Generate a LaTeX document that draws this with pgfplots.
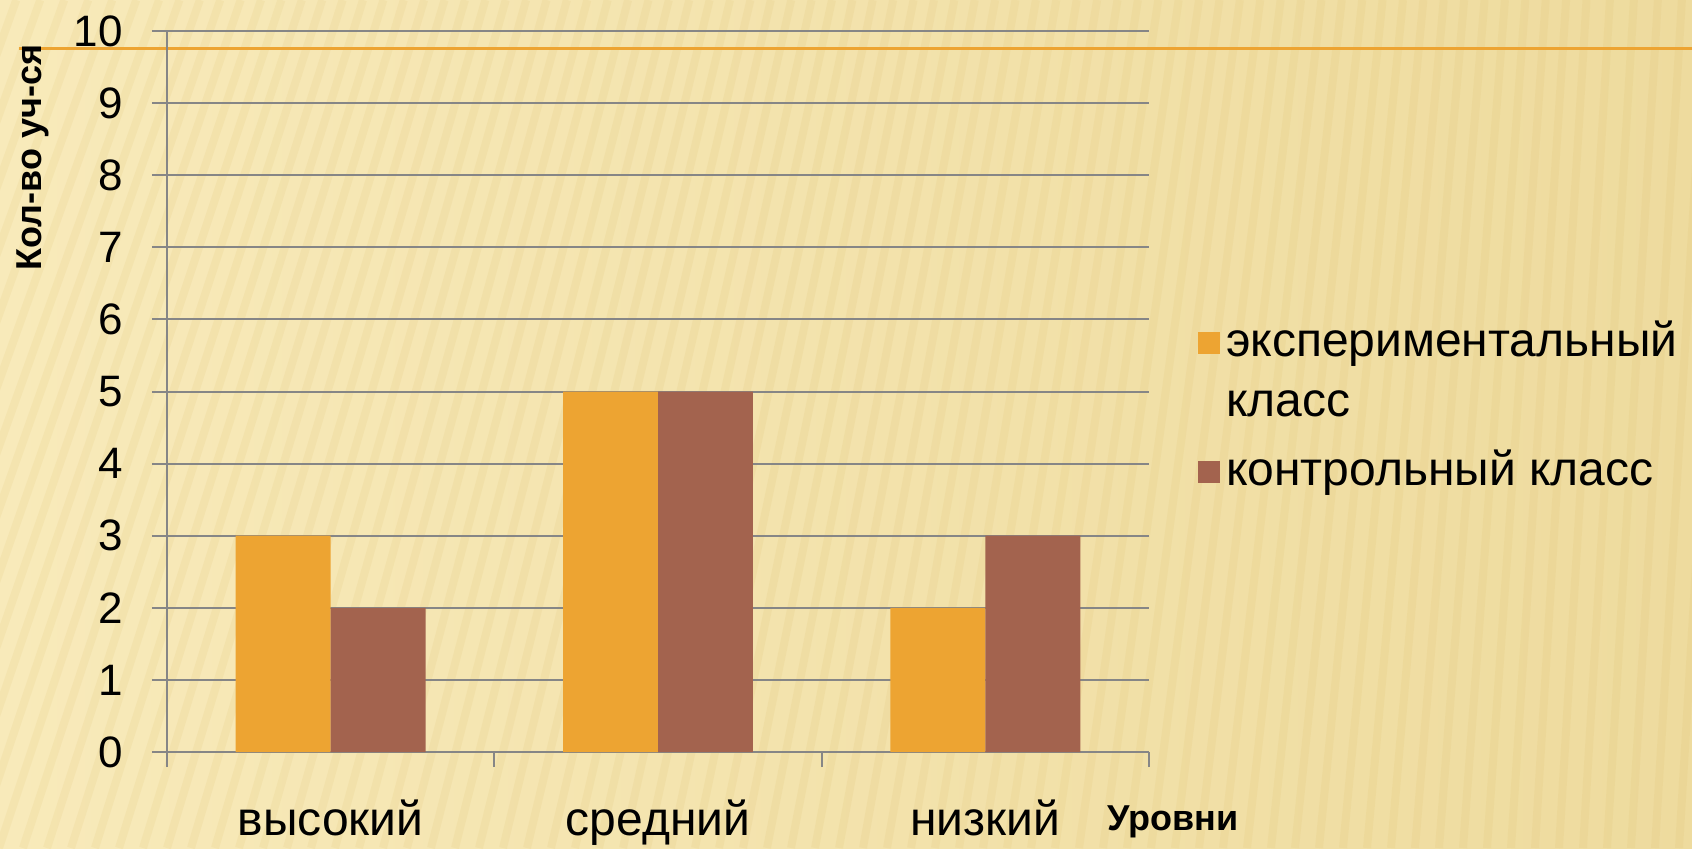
\documentclass[border=0pt]{standalone}
\usepackage{fontspec}
\setmainfont{Liberation Sans}
\usepackage{pgfplots}
\pgfplotsset{compat=1.18}
\definecolor{bgl}{RGB}{248,234,186}
\definecolor{bgm}{RGB}{252,241,202}
\definecolor{bgr}{RGB}{238,219,158}
\definecolor{stripec}{RGB}{215,180,90}
\definecolor{expc}{RGB}{237,164,50}
\definecolor{ctlc}{RGB}{163,99,78}
\definecolor{gridc}{RGB}{134,134,134}
\begin{document}
\begin{tikzpicture}
\path[use as bounding box] (-83.5pt,-48pt) rectangle (762.5pt,376pt);
\begin{scope}
\clip (-83.5pt,-48pt) rectangle (762.5pt,376pt);
\shade[left color=bgl, middle color=bgm, right color=bgr] (-83.5pt,-48pt) rectangle (762.5pt,376pt);
\foreach \k in {0,...,84} {
  \pgfmathsetmacro{\xx}{-240+\k*12}
  \pgfmathsetmacro{\lean}{0.36-0.30*max(0,min(1,(\xx+160)/846))}
  \draw[stripec, line width=4pt, opacity=0.11] (\xx pt,-48pt) -- ++({\lean*424pt},424pt);
}
\end{scope}
\draw[expc, line width=1.5pt] (-74pt,351.75pt) -- (762.5pt,351.75pt);
\begin{axis}[
  at={(0pt,0pt)}, anchor=south west,
  scale only axis, width=491pt, height=360.5pt,
  xmin=-0.5, xmax=2.5, ymin=0, ymax=10,
  ytick={0,1,...,10},
  xtick={-0.5,0.5,1.5,2.5}, xticklabels={},
  extra x ticks={0,1,2}, extra x tick labels={высокий,средний,низкий},
  extra x tick style={major tick length=0pt, grid=none},
  axis x line*=bottom, axis y line*=left,
  axis line style={gridc, line width=1pt, -},
  ymajorgrids, grid style={gridc, line width=1pt},
  tick style={gridc, line width=1pt},
  major tick length=7.5pt,
  tick align=outside,
  /pgf/number format/assume math mode=true,
  yticklabel style={font=\fontsize{22}{26}\selectfont, anchor=east, inner sep=0pt, xshift=-14.5pt},
  xticklabel style={font=\fontsize{24}{28}\selectfont, anchor=base, yshift=-41.5pt},
  xlabel={Уровни}, ylabel={Кол-во уч-ся},
  every axis x label/.style={at={(axis description cs:1.0244,0)}, anchor=base, yshift=-39pt, font=\fontsize{18}{22}\selectfont\bfseries},
  every axis y label/.style={at={(axis description cs:-0.1273,0.8245)}, anchor=base, rotate=90, font=\fontsize{18}{22}\selectfont\bfseries},
  legend cell align=left,
  legend image code/.code={\fill[#1,overlay] (0pt,1pt) rectangle (11pt,12pt); \path (0pt,0pt) (11pt,0pt);},
  legend style={at={(axis description cs:1.0499,0.5506)}, anchor=north west, draw=none, fill=none, inner sep=0pt, outer sep=0pt,
    font=\fontsize{24}{30}\selectfont, row sep=63.5pt, column sep=3pt,
    cells={anchor=base west}, nodes={inner sep=0pt, text depth=0pt, text height=0pt}},
]
\addplot[ybar, bar width=0.29, bar shift=-0.145, fill=expc, draw=none] coordinates {(0,3) (1,5) (2,2)};
\addlegendentry{\parbox[t]{300pt}{экспериментальный\\класс}}
\addplot[ybar, bar width=0.29, bar shift=0.145, fill=ctlc, draw=none] coordinates {(0,2) (1,5) (2,3)};
\addlegendentry{контрольный класс}
\end{axis}
\end{tikzpicture}
\end{document}
